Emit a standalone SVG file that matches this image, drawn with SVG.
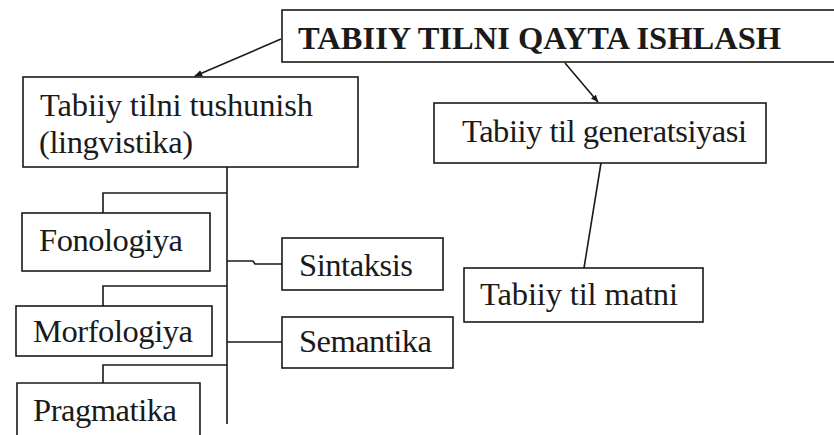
<svg xmlns="http://www.w3.org/2000/svg" width="834" height="435" viewBox="0 0 834 435">
<style>
.box{fill:#fff;stroke:#1a1a1a;stroke-width:1.6}
.t{font-family:"Liberation Serif","Times New Roman",serif;font-size:32.5px;fill:#1a1a1a}
.b{font-weight:bold}
.c{fill:none;stroke:#1a1a1a;stroke-width:1.6}
</style>
<defs>
<marker id="ah" viewBox="0 0 10 10" refX="9" refY="5" markerWidth="8" markerHeight="8" orient="auto" markerUnits="userSpaceOnUse">
<path d="M0,1 L10,5 L0,9 Z" fill="#1a1a1a"/>
</marker>
</defs>
<rect width="834" height="435" fill="#fff"/>
<g id="connectors">
<line class="c" x1="281" y1="39" x2="195" y2="76" marker-end="url(#ah)"/>
<line class="c" x1="565" y1="63" x2="598" y2="102" marker-end="url(#ah)"/>
<line class="c" x1="227" y1="167" x2="227" y2="424"/>
<polyline class="c" points="227,193 103,193 103,213"/>
<polyline class="c" points="227,286 103,286 103,306"/>
<polyline class="c" points="227,365 103,365 103,383"/>
<polyline class="c" points="227,261 253,261 255,264 282,264"/>
<line class="c" x1="227" y1="342" x2="282" y2="342"/>
<line class="c" x1="601" y1="163" x2="584" y2="268"/>
</g>
<g id="title">
<rect class="box" x="282" y="10" width="560" height="52"/>
<text class="t b" x="298" y="49" textLength="483">TABIIY TILNI QAYTA ISHLASH</text>
</g>
<g id="tushunish">
<rect class="box" x="23" y="77" width="335" height="90"/>
<text class="t" x="40" y="116" textLength="273">Tabiiy tilni tushunish</text>
<text class="t" x="39" y="153" textLength="154">(lingvistika)</text>
</g>
<g id="generatsiya">
<rect class="box" x="434" y="103" width="332" height="60"/>
<text class="t" x="462" y="142" textLength="285">Tabiiy til generatsiyasi</text>
</g>
<g id="fonologiya">
<rect class="box" x="22" y="213" width="188" height="58"/>
<text class="t" x="39" y="251" textLength="144">Fonologiya</text>
</g>
<g id="morfologiya">
<rect class="box" x="16" y="306" width="196" height="50"/>
<text class="t" x="33" y="342" textLength="160">Morfologiya</text>
</g>
<g id="pragmatika">
<path class="box" d="M17,440 V383 H200 V440"/>
<text class="t" x="33" y="421" textLength="144">Pragmatika</text>
</g>
<g id="sintaksis">
<rect class="box" x="282" y="238" width="161" height="52"/>
<text class="t" x="299" y="276" textLength="114">Sintaksis</text>
</g>
<g id="semantika">
<rect class="box" x="282" y="317" width="171" height="51"/>
<text class="t" x="299" y="352" textLength="133">Semantika</text>
</g>
<g id="matni">
<rect class="box" x="464" y="268" width="239" height="54"/>
<text class="t" x="480" y="305" textLength="198">Tabiiy til matni</text>
</g>
</svg>
